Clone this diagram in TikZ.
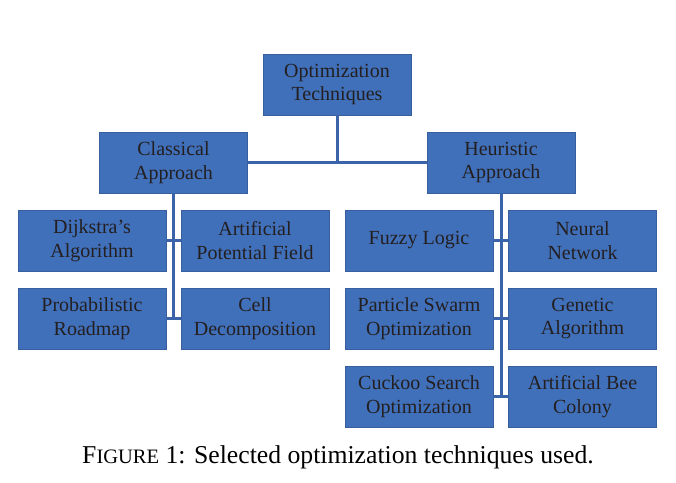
\documentclass[tikz,border=0pt]{standalone}
\usepackage{fontspec}
\setmainfont{Liberation Serif}[Ligatures=ResetAll]
\usepackage{xcolor}
\usepackage{tikz}
\definecolor{boxblue}{HTML}{4170BA}
\definecolor{lineblue}{HTML}{3A63AA}
\definecolor{inktext}{HTML}{231F20}
\tikzset{
  techbox/.style={fill=boxblue, draw=boxblue!85!black, line width=0.4pt,
    minimum width=148pt, minimum height=61pt, align=center,
    text=inktext, font=\fontsize{20}{23.5}\selectfont, inner sep=2pt},
  branch/.style={lineblue, line width=3pt}
}
\begin{document}
\begin{tikzpicture}[x=1pt, y=-1pt]
\useasboundingbox (0,0) rectangle (676,482);
% Root and the two approaches
\node[techbox] (opt) at (337,84.5) {Optimization\\Techniques};
\node[techbox] (cls) at (173.5,162.5) {Classical\\Approach};
\node[techbox] (heu) at (501,162.5) {Heuristic\\Approach};

% Classical methods
\node[techbox] (dij) at (92,240.5) {Dijkstra's\\Algorithm};
\node[techbox] (apf) at (255,240.5) {Artificial\\Potential Field};
\node[techbox] (prm) at (92,318.5) {Probabilistic\\Roadmap};
\node[techbox] (cel) at (255,318.5) {Cell\\Decomposition};

% Heuristic methods
\node[techbox] (fuz) at (419,240.5) {Fuzzy Logic};
\node[techbox] (nnw) at (582.5,240.5) {Neural\\Network};
\node[techbox] (pso) at (419,318.5) {Particle Swarm\\Optimization};
\node[techbox] (gen) at (582.5,318.5) {Genetic\\Algorithm};
\node[techbox] (cso) at (419,396.5) {Cuckoo Search\\Optimization};
\node[techbox] (abc) at (582.5,396.5) {Artificial Bee\\Colony};

% Tree connectors
\draw[branch] (opt.south) -- (opt.south |- cls.east);
\draw[branch] (cls.east) -- (heu.west);
\draw[branch] (cls.south) -- (cls.south |- prm.east);
\draw[branch] (dij.east) -- (apf.west);
\draw[branch] (prm.east) -- (cel.west);
\draw[branch] (heu.south) -- (heu.south |- cso.east);
\draw[branch] (fuz.east) -- (nnw.west);
\draw[branch] (pso.east) -- (gen.west);
\draw[branch] (cso.east) -- (abc.west);

% Caption
\node[font=\fontsize{25.7}{30}\selectfont] (cap) at (338,457) {F{\fontsize{20.5}{30}\selectfont IGURE} 1: Selected optimization techniques used.};
\end{tikzpicture}
\end{document}
